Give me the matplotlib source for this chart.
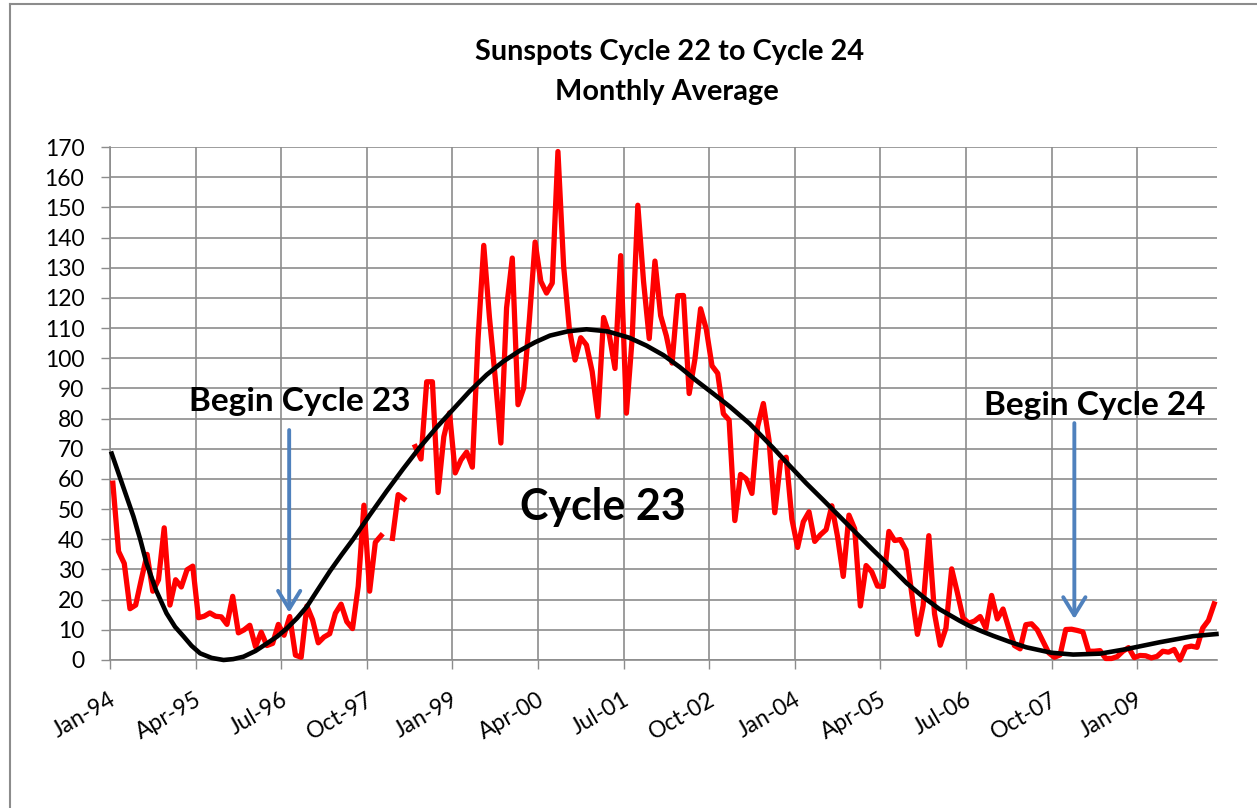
import numpy as np
import matplotlib.pyplot as plt
from matplotlib.lines import Line2D
import matplotlib.transforms as mtransforms

plt.rcParams['font.family'] = ['Lato', 'DejaVu Sans']

nan = np.nan

# monthly average sunspot number, Jan-94 .. Feb-10 (nan = month not plotted)
ssn_1994 = [58.6, 36.0, 32.0, 17.0, 18.2, 26.8, 35.0, 22.8, 26.6, 43.8, 18.2, 26.6]
ssn_1995 = [24.2, 29.9, 31.1, 14.0, 14.5, 15.6, 14.5, 14.3, 11.8, 21.1, 9.0, 10.0]
ssn_1996 = [11.5, 4.4, 9.2, 4.8, 5.5, 11.8, 8.2, 14.4, 1.6, 0.9, 17.9, 13.3]
ssn_1997 = [5.7, 7.6, 8.7, 15.5, 18.5, 12.7, 10.4, 24.4, 51.3, 22.8, 39.0, 41.2]
ssn_1998 = [nan, 40.3, 54.8, 53.4, nan, 70.7, 66.6, 92.2, 92.2, 55.5, 74.0, 81.9]
ssn_1999 = [62.0, 66.3, 68.9, 63.9, 106.4, 137.4, 113.5, 93.7, 71.9, 116.7, 133.2, 84.6]
ssn_2000 = [90.1, 112.9, 138.5, 125.5, 121.6, 124.9, 168.5, 130.5, 109.7, 99.4, 106.8, 104.4]
ssn_2001 = [95.6, 80.6, 113.5, 107.7, 96.6, 134.0, 81.8, 106.4, 150.7, 125.5, 106.5, 132.2]
ssn_2002 = [114.1, 107.4, 98.4, 120.7, 120.8, 88.3, 99.6, 116.4, 109.6, 97.5, 95.0, 81.6]
ssn_2003 = [79.5, 46.2, 61.5, 60.0, 55.2, 77.4, 85.0, 72.7, 48.8, 65.6, 67.2, 46.7]
ssn_2004 = [37.3, 45.8, 49.1, 39.3, 41.5, 43.2, 51.1, 40.9, 27.7, 48.0, 43.5, 17.9]
ssn_2005 = [31.3, 29.2, 24.5, 24.4, 42.6, 39.6, 39.9, 36.4, 22.1, 8.5, 18.0, 41.2]
ssn_2006 = [15.3, 4.9, 10.6, 30.2, 22.3, 13.9, 12.2, 12.9, 14.4, 10.5, 21.4, 13.6]
ssn_2007 = [16.9, 10.6, 4.8, 3.7, 11.7, 12.0, 10.0, 6.2, 2.4, 0.9, 1.7, 10.1]
ssn_2008 = [10.2, 9.8, 9.3, 2.9, 2.9, 3.1, 0.5, 0.5, 1.1, 2.9, 4.1, 0.8]
ssn_2009 = [1.5, 1.4, 0.7, 1.2, 2.9, 2.6, 3.5, 0.0, 4.2, 4.6, 4.2, 10.6]
ssn_2010 = [13.1, 18.6]

# smooth cycle curve (month counted from Jan-94)
trend_month = [0.3, 2.2, 4.1, 5.3, 6.4, 8.1, 9.9, 11.4, 12.9, 14.3, 15.8, 17.8,
               19.9, 21.6, 23.4, 25.5, 27.5, 29.3, 31.0, 32.8, 34.5, 36.8,
               38.6, 40.6, 42.6, 45.5, 48.5, 51.4, 54.3, 57.2, 60.1, 63.0, 66.0,
               68.9, 71.8, 74.5, 77.1, 80.2, 83.5, 87.2, 91.0, 94.0, 97.0,
               99.9, 102.8, 105.7, 108.6, 112.1, 116.2, 119.1, 122.0, 125.0,
               127.9, 130.8, 133.7, 136.7, 139.6, 142.5, 145.4, 148.9, 150.7,
               152.8, 154.8, 157.7, 160.6, 165.0, 168.8, 173.5, 178.1, 184.0,
               189.8, 193.9]
trend_value = [68.4, 58.0, 47.6, 40.0, 32.1, 23.0, 15.5, 11.0, 7.8, 4.7, 2.2, 0.7,
               0.0, 0.3, 1.1, 3.0, 5.5, 7.8, 10.5, 13.9, 17.7, 24.4,
               29.6, 34.9, 40.0, 48.0, 56.0, 63.4, 70.5, 77.0, 83.0, 89.0, 94.5,
               98.9, 102.5, 105.3, 107.5, 108.9, 109.6, 108.9, 106.8, 104.2, 101.0,
               97.0, 92.5, 88.3, 84.0, 78.3, 70.3, 64.4, 58.6, 53.0,
               47.5, 42.0, 36.5, 31.0, 25.5, 20.9, 16.8, 13.0, 11.2,
               9.5, 8.0, 6.0, 4.2, 2.4, 1.8, 2.1, 3.6, 5.9,
               7.9, 8.6]

tick_labels = ["Jan-94", "Apr-95", "Jul-96", "Oct-97", "Jan-99", "Apr-00", "Jul-01",
               "Oct-02", "Jan-04", "Apr-05", "Jul-06", "Oct-07", "Jan-09"]

ssn = np.array(ssn_1994 + ssn_1995 + ssn_1996 + ssn_1997 + ssn_1998 + ssn_1999 +
               ssn_2000 + ssn_2001 + ssn_2002 + ssn_2003 + ssn_2004 + ssn_2005 +
               ssn_2006 + ssn_2007 + ssn_2008 + ssn_2009 + ssn_2010)
months = np.arange(len(ssn)) + 0.5

W, H = 1257, 808
fig = plt.figure(figsize=(W / 100, H / 100), dpi=100)
ax = fig.add_axes([110 / W, 1 - 660 / H, (1217 - 110) / W, (660 - 147) / H])

grid_c = "#8c8c8c"
ax.plot(months, ssn, color="#ff0000", lw=3.8, solid_joinstyle="round", zorder=3, clip_on=False)
ax.plot(trend_month, trend_value, color="black", lw=3.3, solid_joinstyle="round",
        zorder=4, clip_on=False)

ax.set_xlim(0, len(ssn))
ax.set_ylim(0, 170)
ax.set_yticks(np.arange(0, 171, 10))
ax.set_xticks(np.arange(0, 15 * len(tick_labels), 15))
ax.set_xticklabels(tick_labels, rotation=30, ha="right", va="center", rotation_mode="anchor")
ax.grid(True, color=grid_c, lw=1.2)
ax.set_axisbelow(True)
ax.tick_params(axis="both", direction="out", length=6.5, width=1.0, color=grid_c,
               labelsize=16.5, colors="black")
ax.tick_params(axis="x", pad=21)
ax.tick_params(axis="y", pad=12)
ax.tick_params(axis="both", color=grid_c)
for s in ["top", "right"]:
    ax.spines[s].set_visible(False)
for s in ["left", "bottom"]:
    ax.spines[s].set_color(grid_c)
    ax.spines[s].set_linewidth(1.2)

offset = mtransforms.ScaledTranslation(3 / 72, 0, fig.dpi_scale_trans)
for lab in ax.get_xticklabels():
    lab.set_transform(lab.get_transform() + offset)

# arrows marking the cycle starts
arrow_c = "#4f81bd"
for xm, y0, y1 in [(31.4, 76.2, 15.7), (169.0, 78.5, 13.6)]:
    ax.annotate("", xy=(xm, y1), xytext=(xm, y0),
                arrowprops=dict(arrowstyle="->,head_length=0.65,head_width=0.4",
                                color=arrow_c, lw=2.8, mutation_scale=20,
                                shrinkA=0, shrinkB=0), zorder=5)

def ftext(x, y, s, size):
    fig.text(x / W, 1 - y / H, s, ha="center", va="center", fontsize=size,
             fontweight="bold")

ftext(670, 52, "Sunspots Cycle 22 to Cycle 24", 20.8)
ftext(667, 92, "Monthly Average", 20.8)
ftext(300, 402, "Begin Cycle 23", 24)
ftext(1095, 405, "Begin Cycle 24", 24)
ftext(603, 507, "Cycle 23", 31)

# outer chart frame
fig.add_artist(Line2D([10 / W, 10 / W], [0, 1 - 4 / H], color="#8c8c8c", lw=1.5))
fig.add_artist(Line2D([10 / W, 1], [1 - 4 / H, 1 - 4 / H], color="#8c8c8c", lw=1.5))

fig.savefig("out.png", dpi=100)
